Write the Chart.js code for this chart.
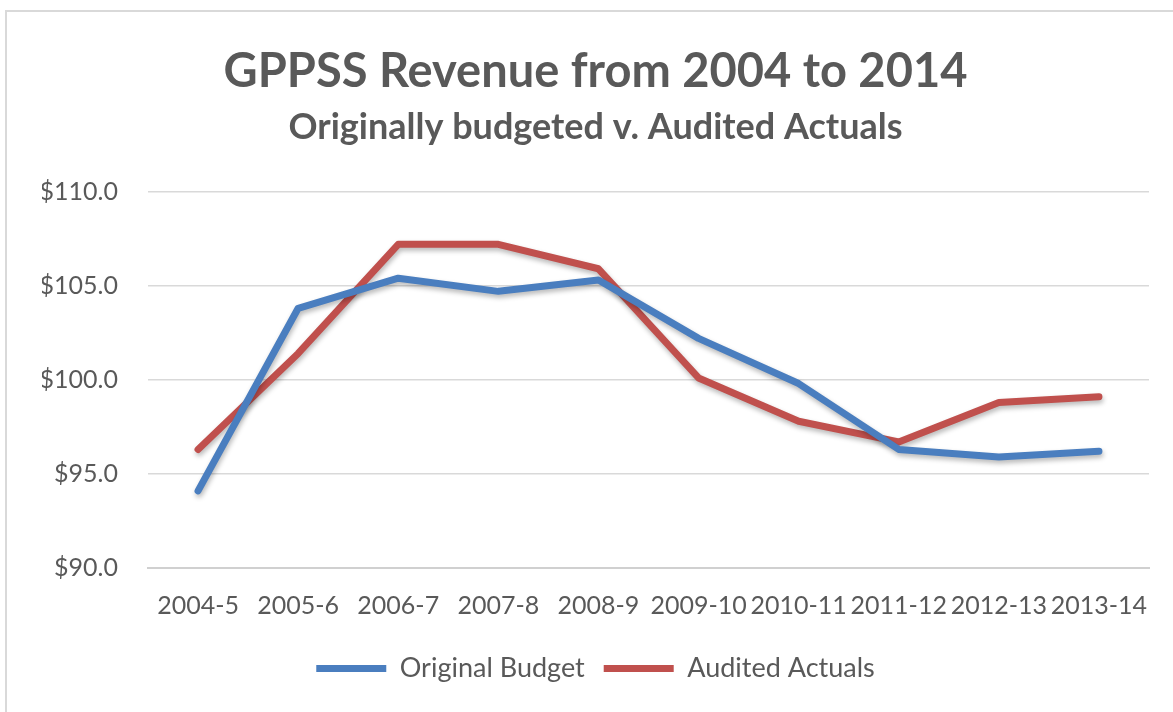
<!DOCTYPE html>
<html>
<head>
<meta charset="utf-8">
<script src="https://cdn.jsdelivr.net/npm/chart.js@4.4.1/dist/chart.umd.min.js"></script>
<style>
  html, body { margin: 0; padding: 0; background: #fff; overflow: hidden; }
  #moldura {
    position: absolute; left: 5px; top: 10px;
    width: 1177px; height: 720px;
    border: 2px solid #d9d9d9;
    background: #fff;
  }
  canvas { display: block; }
</style>
</head>
<body>
<div id="moldura">
  <canvas id="receita" width="1177" height="700"></canvas>
</div>
<script>
// categorias (anos fiscais)
const anos = ['2004-5', '2005-6', '2006-7', '2007-8', '2008-9',
              '2009-10', '2010-11', '2011-12', '2012-13', '2013-14'];

// valores (milhoes de $)
const orcamentoOriginal = [94.1, 103.8, 105.4, 104.7, 105.3, 102.2, 99.8, 96.3, 95.9, 96.2];
const realAuditado      = [96.3, 101.4, 107.2, 107.2, 105.9, 100.1, 97.8, 96.7, 98.8, 99.1];

// eixo y
const yMin = 90;
const yMax = 110;
const yPasso = 5;

const cinza = '#595959';
const fonte = 'Lato, "Open Sans", sans-serif';

// sombra leve por baixo das linhas, como no Excel
const sombra = {
  id: 'sombra',
  beforeDatasetDraw(chart) {
    const ctx = chart.ctx;
    ctx.save();
    ctx.shadowColor = 'rgba(0,0,0,0.28)';
    ctx.shadowBlur = 5;
    ctx.shadowOffsetX = 1;
    ctx.shadowOffsetY = 3;
  },
  afterDatasetDraw(chart) {
    chart.ctx.restore();
  }
};

var ctx = document.getElementById('receita').getContext('2d');
var grafico = new Chart(ctx, {
  type: 'line',
  data: {
    labels: anos,
    datasets: [{
      label: 'Original Budget',
      data: orcamentoOriginal,
      borderColor: '#4a7ebf',
      backgroundColor: '#4a7ebf',
      borderWidth: 7,
      borderCapStyle: 'round',
      borderJoinStyle: 'round',
      pointRadius: 0,
      tension: 0
    }, {
      label: 'Audited Actuals',
      data: realAuditado,
      borderColor: '#c0504d',
      backgroundColor: '#c0504d',
      borderWidth: 7,
      borderCapStyle: 'round',
      borderJoinStyle: 'round',
      pointRadius: 0,
      tension: 0
    }]
  },
  plugins: [sombra],
  options: {
    responsive: false,
    animation: false,
    layout: { padding: { left: 35, right: 35, top: 0, bottom: 20 } },
    plugins: {
      title: {
        display: true,
        text: 'GPPSS Revenue from 2004 to 2014',
        color: cinza,
        font: { family: fonte, size: 47, weight: 'bold' },
        padding: { top: 32, bottom: 0 }
      },
      subtitle: {
        display: true,
        text: 'Originally budgeted v. Audited Actuals',
        color: cinza,
        font: { family: fonte, size: 36, weight: 'bold' },
        padding: { top: 5, bottom: 43 }
      },
      legend: {
        position: 'bottom',
        labels: {
          usePointStyle: true,
          pointStyle: 'line',
          pointStyleWidth: 70,
          color: cinza,
          font: { family: fonte, size: 27 },
          padding: 19
        }
      },
      tooltip: { enabled: false }
    },
    scales: {
      x: {
        offset: true,
        grid: { display: false, offset: true },
        border: { display: true, color: '#d0d0d0', width: 2 },
        ticks: {
          color: cinza,
          font: { family: fonte, size: 25 },
          autoSkip: false,
          maxRotation: 0,
          padding: 15
        }
      },
      y: {
        min: yMin,
        max: yMax,
        afterFit: function (escala) { escala.width = 106; },
        border: { display: false },
        grid: { color: '#d9d9d9', lineWidth: 1.5, drawTicks: false },
        ticks: {
          stepSize: yPasso,
          color: cinza,
          font: { family: fonte, size: 25 },
          padding: 30,
          callback: function (v) { return '$' + v.toFixed(1); }
        }
      }
    }
  }
});
</script>
</body>
</html>
